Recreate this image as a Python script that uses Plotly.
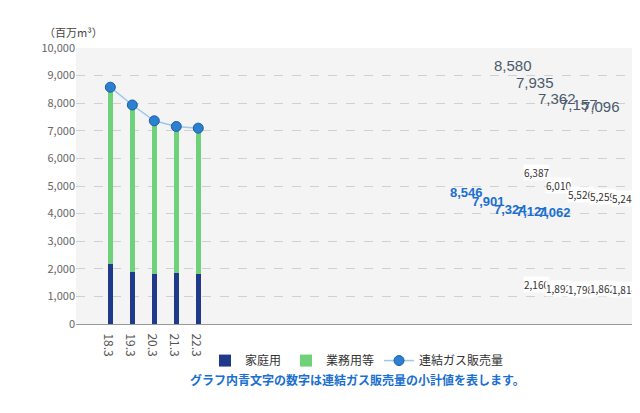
import plotly.graph_objects as go

categories = ["18.3", "19.3", "20.3", "21.3", "22.3"]
household = [2160, 1892, 1798, 1862, 1814]
business = [6387, 6010, 5526, 5259, 5248]
subtotal = [8546, 7901, 7324, 7121, 7062]
consolidated = [8580, 7935, 7362, 7157, 7096]
yticks = list(range(0, 10001, 1000))

fig = go.Figure()
fig.add_bar(x=categories, y=household, name="家庭用", width=0.25,
            marker=dict(color="#1f3a8a", line=dict(width=0)))
fig.add_bar(x=categories, y=business, name="業務用等", width=0.25,
            marker=dict(color="#6fd27a", line=dict(width=0)))
fig.add_scatter(x=categories, y=consolidated, name="連結ガス販売量", mode="lines+markers",
                line=dict(color="#9cc8ea", width=1.5),
                marker=dict(color="#2d7fd0", size=10, line=dict(color="#1a5fa8", width=1)))

ann = []
for i, c in enumerate(categories):
    ann.append(dict(x=c, y=consolidated[i], text=f"{consolidated[i]:,}", showarrow=False,
                    yshift=22, font=dict(size=15, color="#4a5a6a", family="Arial"), xref="x", yref="y"))
    ann.append(dict(x=c, xshift=-46, y=subtotal[i] / 2 + 500, text=f"<b>{subtotal[i]:,}</b>", showarrow=False,
                    font=dict(size=13, color="#1a6fd0", family="Arial"), xref="x", yref="y"))
    ann.append(dict(x=c, xshift=24, y=household[i] + business[i] / 2 + 120, text=f"{business[i]:,}", showarrow=False,
                    font=dict(size=10, color="#333"), bgcolor="rgba(255,255,255,0.85)", borderpad=0,
                    xref="x", yref="y"))
    ann.append(dict(x=c, xshift=24, y=household[i] * 0.55 + 250, text=f"{household[i]:,}", showarrow=False,
                    font=dict(size=10, color="#333"), bgcolor="rgba(255,255,255,0.85)", borderpad=0,
                    xref="x", yref="y"))
ann.append(dict(x=-0.06, y=1.02, xref="paper", yref="paper", text="（百万m³）", showarrow=False,
                xanchor="left", yanchor="bottom", font=dict(size=11, color="#444")))
ann.append(dict(x=0.5, y=-0.24, xref="paper", yref="paper", text="<b>グラフ内青文字の数字は連結ガス販売量の小計値を表します。</b>",
                showarrow=False, font=dict(size=12, color="#1a6fd0")))

fig.update_layout(
    width=640, height=413, barmode="stack",
    paper_bgcolor="white", plot_bgcolor="#f4f4f4",
    margin=dict(l=68, r=10, t=40, b=97),
    font=dict(family="Noto Sans CJK JP, Arial", color="#555"),
    annotations=ann,
    legend=dict(orientation="h", x=0.5, xanchor="center", y=-0.08, yanchor="top",
                traceorder="normal", font=dict(size=12, color="#333")),
    xaxis=dict(type="category", showline=True, linecolor="#999", tickfont=dict(size=12, color="#555")),
    yaxis=dict(range=[0, 10000], tickvals=yticks, tickformat=",", gridcolor="#d0d0d0",
               griddash="dash", tickfont=dict(size=11, color="#666"), zeroline=False),
)
fig.write_html("out.html")
